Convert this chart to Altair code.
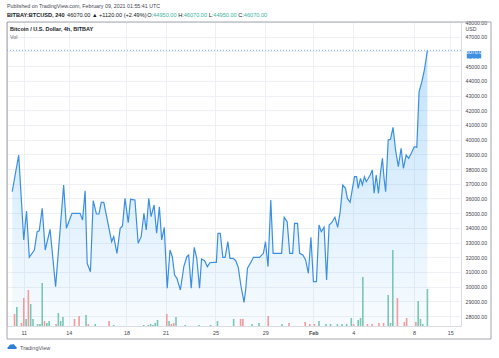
import altair as alt
import pandas as pd

# ---------------- data ----------------
# bar index (4h bars, 0 = first bar) and closing price
bars = [0.0, 2.8, 5.0, 6.2, 7.4, 9.6, 10.8, 11.7, 13.0, 14.3, 16.4, 18.8, 22.3, 23.5, 25.9,
        29.4, 30.5, 31.6, 32.5, 33.9, 35.1, 36.5, 37.6, 38.6, 39.7, 43.1, 44.0, 45.4, 46.8,
        47.8, 48.9, 50.3, 51.3, 53.2, 54.6, 55.9, 57.1, 58.1, 59.2, 60.2, 61.5, 62.6, 63.8,
        64.8, 65.9, 67.2, 68.4, 69.4, 70.4, 71.4, 72.9, 74.4, 75.7, 76.5, 77.6, 78.9, 80.0,
        81.2, 82.1, 83.4, 84.6, 85.7, 87.4, 88.5, 89.2, 90.2, 91.3, 92.3, 93.5, 94.4, 95.8,
        96.9, 98.0, 99.1, 100.5, 101.2, 102.0, 103.6, 104.6, 107.2, 108.9, 109.8, 110.9,
        112.1, 113.1, 115.6, 116.8, 117.9, 119.2, 120.3, 121.6, 122.4, 123.7, 124.6, 126.0,
        127.2, 128.4, 129.5, 130.6, 131.9, 133.0, 134.0, 135.2, 136.3, 137.4, 138.5, 139.9,
        141.1, 142.2, 143.3, 144.5, 145.3, 146.5, 147.5, 148.4, 149.3, 150.0, 151.0, 151.8,
        152.7, 153.5, 154.4, 155.2, 156.1, 156.9, 157.8, 158.8, 159.7, 160.5, 161.2, 161.9,
        163.0, 164.0, 165.1, 166.2, 167.4, 168.6, 169.6, 170.8, 171.9, 173.0, 174.3, 175.4,
        176.4, 177.6, 178.7, 180.0]
closes = [36456, 38952, 33170, 35143, 31993, 32490, 33735, 33800, 35326, 32490, 33898, 29993,
          36912, 33966, 34986, 34986, 34530, 36524, 31585, 31014, 35843, 34939, 34939, 35735,
          35735, 33054, 33395, 32265, 33966, 34122, 36007, 34350, 35939, 35891, 32945, 33395,
          34986, 33850, 36007, 34755, 35551, 33626, 35435, 33170, 34034, 29884, 32490, 32034,
          30789, 30565, 29769, 31356, 32034, 32150, 29884, 32673, 31925, 29884, 31878, 31762,
          31356, 31626, 31653, 31653, 33626, 33626, 31993, 31993, 33054, 31925, 31925, 31762,
          31313, 30109, 28932, 29769, 31245, 31694, 31993, 31993, 32265, 33054, 31356, 35891,
          32265, 32265, 32265, 34714, 34415, 32265, 32265, 34306, 34306, 32265, 32150, 31810,
          30905, 33354, 30333, 30333, 34190, 33735, 34034, 30449, 34190, 34347, 34714, 34034,
          35100, 36912, 36687, 36000, 35735, 36687, 37476, 37476, 36687, 37367, 36912, 37476,
          37136, 37367, 37592, 37932, 36347, 37592, 36347, 37816, 38728, 37367, 36456, 39973,
          40020, 40837, 39293, 38157, 39408, 38048, 38952, 38728, 39068, 39517, 39476, 43259,
          43939, 44735, 46070]

vol_bars = [1, 2, 4, 5, 6, 7, 8, 9, 11, 12, 13, 14, 15, 16, 19, 20, 21, 22, 27, 29, 32, 33, 36,
            42, 44, 57, 59, 60, 61, 62, 63, 67, 68, 69, 70, 71, 75, 81, 86, 89, 96, 99, 100, 104,
            107, 111, 117, 120, 127, 129, 131, 133, 136, 138, 141, 143, 145, 147, 148, 150, 151,
            152, 154, 156, 159, 161, 163, 164, 165, 167, 170, 171, 175, 176, 177, 178, 180]
vol_sizes = [12, 19, 3, 28, 7, 36, 22, 7, 2, 2, 43, 5, 3, 5, 2, 13, 5, 9, 7, 10, 11, 2, 2,
             5, 1, 1, 1, 2, 1, 3, 6, 12, 5, 2, 3, 9, 1, 1, 1, 5, 7, 7, 7, 2,
             3, 10, 2, 3, 4, 2, 2, 5, 2, 2, 2, 2, 2, 8, 2, 6, 8,
             49, 2, 2, 3, 3, 31, 3, 76, 28, 4, 8, 4, 25, 7, 2, 37]
vol_dirs = ["down", "up", "down", "down", "up", "down", "up", "up", "up", "up", "up", "down", "up",
            "up", "down", "up", "up", "up", "down", "down", "up", "down", "up",
            "down", "up", "up", "up", "up", "up", "up", "up", "down", "up", "down", "down", "up",
            "up", "up", "up", "up", "up", "down", "down", "up",
            "up", "down", "up", "down", "down", "down", "down", "up", "up", "up", "up", "up", "up",
            "up", "down", "up", "up",
            "up", "down", "down", "down", "down", "up", "up", "up", "down", "down", "down", "down",
            "up", "up", "up", "up"]

tick_bars = [5.0, 24.5, 49.5, 66.5, 88.1, 109.7, 130.5, 147.9, 174.2, 189.9]
tick_labels = ["11", "14", "18", "21", "25", "29", "Feb", "4", "8", "15"]
price_ticks = [28000, 29000, 30000, 31000, 32000, 33000, 34000, 35000, 36000, 37000,
               38000, 39000, 40000, 41000, 42000, 43000, 44000, 45000, 46000, 47000, 48000]
last_price = 46070

header1 = "Published on TradingView.com, February 09, 2021 01:55:41 UTC"
header2 = [("BITBAY:BTCUSD, 240 ", "dark", True),
           ("46070.00 \u25b2 +1120.00 (+2.49%) ", "dark", False),
           ("O:", "dark", False), ("44950.00 ", "teal", False),
           ("H:", "dark", False), ("46070.00 ", "teal", False),
           ("L:", "dark", False), ("44950.00 ", "teal", False),
           ("C:", "dark", False), ("46070.00", "teal", False)]
legend_title = "Bitcoin / U.S. Dollar, 4h, BITBAY"

# ---------------- layout ----------------
FONT = "Liberation Sans"
W, H = 454, 304
OX, OY = 7, 22          # view origin in the page
xs = alt.Scale(domain=[-0.1, 192.4], nice=False, zero=False)
ys = alt.Scale(domain=[27320, 48000], nice=False, zero=False)
vs = alt.Scale(domain=[0, 304], nice=False)

# approximate Arial advance widths (em) to lay out the coloured header pieces
WID = {c: 0.556 for c in "0123456789"}
WID.update({".": 0.278, ":": 0.278, " ": 0.278, ",": 0.278, "+": 0.584, "(": 0.333, ")": 0.333,
            "%": 0.889, "\u25b2": 0.77, "O": 0.778, "H": 0.722, "L": 0.556, "C": 0.722,
            "B": 0.722, "I": 0.278, "T": 0.611, "A": 0.722, "Y": 0.667, "U": 0.722,
            "S": 0.667, "D": 0.722})
WIDB = dict(WID)
WIDB.update({":": 0.333, ",": 0.278, " ": 0.278})


def text_width(s, size, bold=False):
    table = WIDB if bold else WID
    return sum(table.get(c, 0.55) for c in s) * size


def label(text, x, y, size=5.4, color="#434651", weight="normal", align="left"):
    return alt.Chart(pd.DataFrame({"t": [text]})).mark_text(
        align=align, baseline="middle", font=FONT, fontSize=size, color=color,
        fontWeight=weight
    ).encode(text="t:N", x=alt.value(x - OX), y=alt.value(y - OY))


price_df = pd.DataFrame({"bar": bars, "close": closes})
vol_df = pd.DataFrame({"bar": vol_bars, "vol": vol_sizes, "dir": vol_dirs})

label_expr = ("[" + ",".join("'%s'" % l for l in tick_labels) + "][indexof(["
              + ",".join(str(b) for b in tick_bars) + "], datum.value)]")
feb_pos = tick_bars[tick_labels.index("Feb")]

x_axis = alt.Axis(values=tick_bars, labelExpr=label_expr, grid=True, gridColor="#eef0f5",
                  domain=False, ticks=False, labelFontSize=5.4, labelColor="#434651",
                  labelPadding=4, labelFont=FONT, title=None, labelOverlap=False,
                  labelFlush=False,
                  labelFontWeight={"condition": {"test": "datum.value == %s" % feb_pos,
                                                 "value": "bold"}, "value": "normal"})
# the 46000 label sits under the last-price tag in the reference, so it is left blank
y_axis = alt.Axis(orient="right", values=price_ticks,
                  labelExpr="datum.value == 48000 ? ['48000.00', 'USD'] : "
                            "(datum.value == 46000 ? '' : format(datum.value, '.2f'))",
                  grid=True, gridColor="#eef0f5", domain=False, ticks=False, labelAlign="left",
                  labelPadding=4, labelFontSize=5.2, labelColor="#434651", labelFont=FONT,
                  title=None, labelOverlap=False, labelFlush=False, labelLineHeight=6)

gradient = alt.Gradient(gradient="linear",
                        stops=[alt.GradientStop(color="rgba(33,150,243,0.28)", offset=0),
                               alt.GradientStop(color="rgba(33,150,243,0.03)", offset=1)],
                        x1=1, x2=1, y1=0, y2=1)

base = alt.Chart(price_df)
area = base.mark_area(color=gradient, clip=True).encode(
    x=alt.X("bar:Q", scale=xs, axis=x_axis),
    y=alt.Y("close:Q", scale=ys, axis=y_axis),
    y2=alt.Y2(datum=27320),
)
line = base.mark_line(color="#3b8fe3", strokeWidth=1.2, clip=True).encode(
    x=alt.X("bar:Q", scale=xs, axis=x_axis),
    y=alt.Y("close:Q", scale=ys, axis=None),
)
volume = alt.Chart(vol_df).mark_bar(size=1.6, clip=True).encode(
    x=alt.X("bar:Q", scale=xs, axis=x_axis),
    y=alt.Y("vol:Q", scale=vs, axis=None),
    color=alt.Color("dir:N", scale=alt.Scale(domain=["up", "down"],
                                             range=["#79c6b6", "#f29b9b"]), legend=None),
)
last_df = pd.DataFrame({"p": [last_price]})
last_rule = alt.Chart(last_df).mark_rule(color="#5aa6ec", strokeDash=[1, 2], strokeWidth=0.8).encode(
    y=alt.Y("p:Q", scale=ys, axis=None),
)
box = alt.Chart(last_df).mark_point(
    shape="M-0.93,-0.5L0.93,-0.5L0.93,0.5L-0.93,0.5Z", size=240, filled=True,
    color="#3f8fe4", opacity=1, yOffset=4.5
).encode(x=alt.value(474 - OX), y=alt.Y("p:Q", scale=ys, axis=None))
box_price = alt.Chart(last_df).mark_text(
    font=FONT, fontSize=5.2, color="white", align="center", baseline="middle", yOffset=1.5
).encode(x=alt.value(474 - OX), y=alt.Y("p:Q", scale=ys, axis=None),
         text=alt.Text("p:Q", format=".2f"))
box_time = label("01:04:22", 474, 59.5, size=5.2, color="white", align="center")

# outer frame of the TradingView widget
frame = alt.Chart(pd.DataFrame({"a": [0]})).mark_rect(
    fillOpacity=0, stroke="#a3a6af", strokeWidth=1
).encode(x=alt.value(0), x2=alt.value(484), y=alt.value(0), y2=alt.value(317))

# header texts
layers_text = [label(header1, 7, 6, size=5.3, color="#434651")]
xpos = 7
size2 = 5.6
for txt, col, bold in header2:
    layers_text.append(label(txt, xpos, 14.5, size=size2,
                             color="#131722" if col == "dark" else "#3bb3a2",
                             weight="bold" if bold else "normal"))
    xpos += text_width(txt, size2, bold)
layers_text.append(label(legend_title, 10, 28.5, size=5.5, color="#131722", weight="bold"))
layers_text.append(label("Vol", 10, 36.5, size=5.3, color="#6a6d78"))
layers_text.append(label("TradingView", 20, 348, size=5.5, color="#50535e"))
logo = alt.Chart(pd.DataFrame({"a": [0]})).mark_point(
    shape="M-0.8,0.4L0.8,0.4A0.35,0.35 0 0 0 0.6,-0.2A0.45,0.45 0 0 0 -0.1,-0.45"
          "A0.4,0.4 0 0 0 -0.6,-0.1A0.3,0.3 0 0 0 -0.8,0.4Z",
    size=110, filled=True, color="#2e7fd6", opacity=1
).encode(x=alt.value(12 - OX), y=alt.value(347 - OY))

chart = alt.layer(
    area, volume, line, last_rule, box, box_price, box_time, frame, logo, *layers_text
).resolve_scale(y="independent").properties(
    width=W, height=H,
    autosize=alt.AutoSizeParams(type="none"),
    padding={"left": OX, "top": OY, "right": 499 - OX - W, "bottom": 358 - OY - H},
    background="white",
).configure_view(stroke="#d9dce3", strokeWidth=1)

chart.save("out.html", embed_options={"renderer": "svg", "actions": False})
